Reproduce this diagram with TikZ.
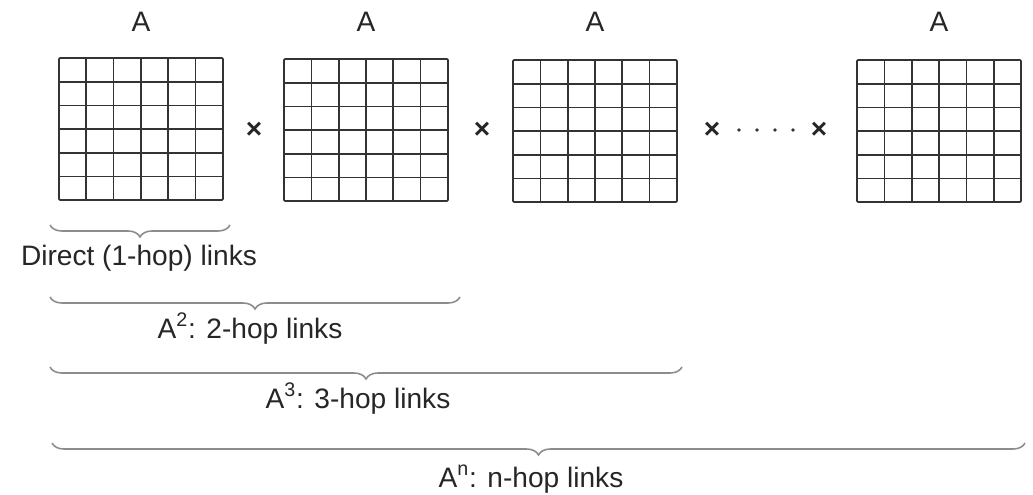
\documentclass[tikz,border=0pt]{standalone}
\usepackage{fontspec}
\setmainfont{Liberation Sans}
\usetikzlibrary{decorations.pathreplacing}

\tikzset{
  matbox/.style={draw=black!80, line width=0.95pt, minimum width=3.28cm,
    minimum height=2.84cm, inner sep=0pt, rounded corners=0.6pt},
  cellline/.style={draw=black!80, line width=0.95pt},
  hopbrace/.style={draw=black!45, line width=0.9pt, decorate,
    decoration={brace, mirror, amplitude=0.24cm}},
  lbl/.style={font=\fontsize{16}{19}\selectfont, text=black!85, anchor=base},
  times/.style={font=\fontsize{16}{19}\selectfont\bfseries, text=black!85},
}

\begin{document}
\begin{tikzpicture}[x=0.02cm, y=-0.02cm]
\useasboundingbox (0,0) rectangle (1033,494);

% the four 6x6 matrices with their labels
\foreach \name/\mx/\my in {m1/59/58, m2/284/59, m3/513/60, m4/857/60} {
  \node[matbox] (\name) at (\mx+82, \my+71) {};
  \foreach \k in {1,...,5} {
    \draw[cellline] (\mx+\k*27.33, \my) -- (\mx+\k*27.33, \my+142);
    \draw[cellline] (\mx, \my+\k*23.67) -- (\mx+164, \my+\k*23.67);
  }
  \node[lbl] (lbl-\name) at (\mx+82, 31) {A};
}

% products
\node[times] (x1) at (254,130) {×};
\node[times] (x2) at (482,130) {×};
\node[times] (x3) at (712,130) {×};
\node[times] (x4) at (819,130) {×};
\foreach \d in {739,757,775,793}
  \fill[black!80] (\d,130) circle (1.1pt);

% braces
\coordinate (b1l) at (50,225);  \coordinate (b1r) at (230,225);
\coordinate (b2l) at (50,297);  \coordinate (b2r) at (460,297);
\coordinate (b3l) at (50,367);  \coordinate (b3r) at (682,367);
\coordinate (b4l) at (52,443);  \coordinate (b4r) at (1025,443);
\draw[hopbrace] (b1l) -- (b1r);
\draw[hopbrace] (b2l) -- (b2r);
\draw[hopbrace] (b3l) -- (b3r);
\draw[hopbrace] (b4l) -- (b4r);

\node[lbl] (hop1) at (139,265) {Direct (1-hop) links};
\node[lbl] (hop2) at (250,338) {A\textsuperscript{2}: 2-hop links};
\node[lbl] (hop3) at (358,408) {A\textsuperscript{3}: 3-hop links};
\node[lbl] (hopn) at (531,487) {A\textsuperscript{n}: n-hop links};
\end{tikzpicture}
\end{document}
